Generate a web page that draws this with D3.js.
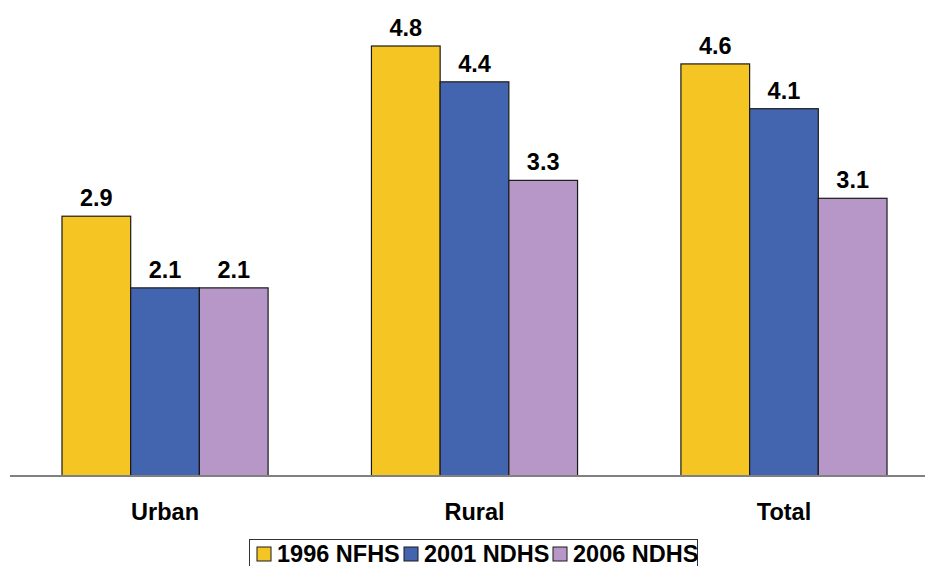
<!DOCTYPE html>
<html><head><meta charset="utf-8">
<script src="https://cdn.jsdelivr.net/npm/d3@7"></script>
<style>body{margin:0;background:#fff}svg{display:block}text{font-family:"Liberation Sans",Arial,sans-serif;font-weight:bold}</style>
</head><body><svg id="c" width="925" height="566"></svg>
<script>
const categories = ["Urban", "Rural", "Total"];
const seriesNames = ["1996 NFHS", "2001 NDHS", "2006 NDHS"];
const s1996 = [2.9, 4.8, 4.6];
const s2001 = [2.1, 4.4, 4.1];
const s2006 = [2.1, 3.3, 3.1];
const colors = ["#F5C623", "#4364AE", "#B797C7"];
const series = [s1996, s2001, s2006];
const FS = 23.5;

const svg = d3.select("#c");
const x0 = d3.scaleBand().domain(categories).range([10, 939]).paddingInner(0.334).paddingOuter(0.168);
const x1 = d3.scaleBand().domain(seriesNames).range([0, x0.bandwidth()]);
const y = d3.scaleLinear().domain([0, 4.8]).range([476, 46]);

const g = svg.append("g");
categories.forEach((c, i) => {
  seriesNames.forEach((s, j) => {
    const v = series[j][i];
    g.append("rect").attr("x", x0(c) + x1(s)).attr("y", y(v))
      .attr("width", x1.bandwidth()).attr("height", y(0) - y(v))
      .attr("fill", colors[j]).attr("stroke", "#1a1a1a").attr("stroke-width", 1.2);
    g.append("text").attr("x", x0(c) + x1(s) + x1.bandwidth() / 2).attr("y", y(v) - 10)
      .attr("text-anchor", "middle").attr("font-size", FS).text(v.toFixed(1));
  });
});
svg.append("line").attr("x1", 10).attr("x2", 925).attr("y1", 476).attr("y2", 476)
  .attr("stroke", "#808080").attr("stroke-width", 2);
const xa = svg.append("g").attr("transform", "translate(0,476)")
  .call(d3.axisBottom(x0).tickSize(0).tickPadding(27));
xa.select(".domain").remove();
xa.selectAll("text").attr("font-size", FS).attr("fill", "#000")
  .style("font-family", '"Liberation Sans",Arial,sans-serif').style("font-weight", "bold");

const lg = svg.append("g");
lg.append("rect").attr("x", 249.5).attr("y", 539.5).attr("width", 448).attr("height", 40)
  .attr("fill", "#fff").attr("stroke", "#333").attr("stroke-width", 1);
const lx = [257, 404, 553];
seriesNames.forEach((s, j) => {
  lg.append("rect").attr("x", lx[j]).attr("y", 547).attr("width", 14).attr("height", 14)
    .attr("fill", colors[j]).attr("stroke", "#1a1a1a").attr("stroke-width", 1);
  lg.append("text").attr("x", lx[j] + 20).attr("y", 562).attr("font-size", FS).text(s);
});
</script></body></html>
